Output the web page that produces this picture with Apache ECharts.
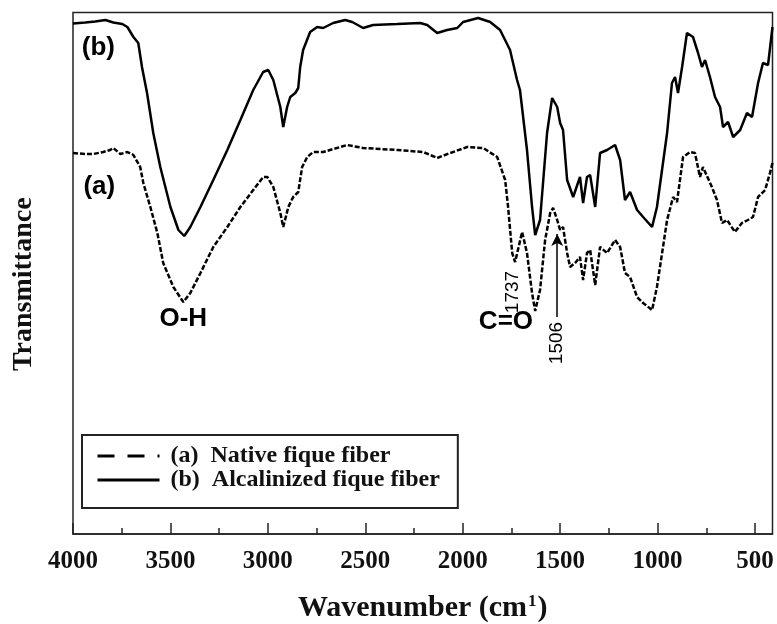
<!DOCTYPE html>
<html>
<head>
<meta charset="utf-8">
<script src="https://cdn.jsdelivr.net/npm/echarts@6/dist/echarts.min.js"></script>
<style>
  html, body { margin: 0; padding: 0; background: #fff; }
  #chart { width: 777px; height: 624px; }
</style>
</head>
<body>
<div id="chart"></div>
<script>
// (b) alcalinized fiber, solid, upper trace
const wnB = [4000, 3937, 3886, 3834, 3793, 3747, 3721, 3690, 3665, 3646, 3620, 3588, 3552, 3500, 3459, 3429, 3398, 3346, 3280, 3208,
  3141, 3075, 3024, 2998, 2972, 2936, 2921, 2901, 2885, 2859, 2844, 2834, 2819, 2783, 2747, 2716, 2665, 2603, 2567, 2511,
  2460, 2336, 2218, 2182, 2131, 2080, 2028, 1998, 1921, 1859, 1808, 1757, 1721, 1706, 1670, 1644, 1628, 1603, 1567, 1541,
  1515, 1500, 1485, 1464, 1433, 1398, 1382, 1362, 1346, 1320, 1295, 1259, 1218, 1192, 1167, 1141, 1105, 1074, 1028, 1003,
  951, 926, 910, 895, 874, 849, 818, 792, 772, 756, 731, 705, 679, 664, 638, 612, 576, 541, 515, 484, 459, 433, 410];
const tB = [102.1, 102.3, 102.5, 102.8, 102.3, 102.0, 101.4, 99.4, 98.2, 93.4, 88.2, 80.2, 73.4, 65.4, 60.8, 59.6, 61.4, 65.4, 70.8, 76.8,
  82.8, 88.8, 92.4, 92.8, 90.8, 85.4, 81.4, 85.4, 87.4, 88.2, 89.2, 93.4, 96.8, 100.4, 101.4, 101.2, 102.2, 102.8, 102.4, 101.2,
  101.8, 102.0, 102.2, 101.8, 100.2, 100.8, 101.2, 102.4, 103.2, 102.4, 100.8, 96.8, 90.8, 88.8, 76.8, 65.4, 59.8, 62.8, 80.2, 87.2,
  85.4, 82.2, 80.8, 70.8, 67.4, 71.4, 66.2, 71.4, 71.8, 65.4, 76.2, 76.8, 77.8, 74.8, 66.8, 68.4, 64.8, 63.4, 61.4, 65.4,
  80.2, 90.2, 91.4, 88.2, 93.4, 100.2, 99.4, 96.2, 93.4, 94.8, 91.4, 87.4, 85.4, 81.4, 82.4, 79.4, 80.8, 84.2, 83.4, 90.2, 94.2, 93.8, 101.4];

// (a) native fiber, dashed, lower trace
const wnA = [4000, 3937, 3896, 3845, 3809, 3793, 3757, 3721, 3690, 3655, 3639, 3603, 3567, 3537, 3485, 3434, 3398, 3346, 3280, 3208,
  3141, 3075, 3024, 3003, 2972, 2936, 2921, 2895, 2870, 2844, 2824, 2798, 2767, 2716, 2593, 2511, 2336, 2203, 2131, 2064,
  1977, 1895, 1823, 1782, 1767, 1746, 1731, 1695, 1670, 1644, 1628, 1603, 1577, 1551, 1536, 1515, 1500, 1485, 1464, 1449,
  1423, 1398, 1382, 1362, 1346, 1320, 1295, 1259, 1218, 1192, 1167, 1141, 1105, 1074, 1028, 1003, 951, 920, 900, 869,
  833, 808, 782, 767, 721, 695, 669, 643, 603, 567, 536, 510, 484, 448, 423, 410];
const tA = [76.2, 76.0, 76.0, 76.4, 76.8, 77.2, 76.0, 76.4, 75.8, 73.4, 70.2, 65.4, 60.2, 54.2, 49.4, 46.4, 48.2, 52.2, 57.4, 61.4,
  65.4, 68.8, 71.4, 71.4, 69.4, 64.2, 61.4, 65.4, 67.4, 68.4, 73.4, 75.4, 76.4, 76.4, 77.8, 77.2, 76.8, 76.4, 75.2, 76.2,
  77.4, 77.2, 75.4, 70.8, 65.4, 56.2, 54.4, 60.4, 56.2, 48.2, 44.6, 48.8, 58.8, 64.2, 65.2, 62.8, 60.8, 61.4, 56.2, 53.4,
  54.2, 55.4, 50.8, 56.2, 56.8, 49.8, 57.4, 56.2, 58.8, 57.4, 52.2, 51.4, 47.4, 46.2, 44.8, 49.4, 62.8, 67.4, 66.4, 75.4,
  76.4, 76.2, 71.4, 73.4, 69.4, 66.8, 62.2, 62.8, 60.4, 62.2, 62.8, 63.4, 67.4, 68.8, 72.2, 74.2];

const majorTicks = [4000, 3500, 3000, 2500, 2000, 1500, 1000, 500];
const minorTicks = [3750, 3250, 2750, 2250, 1750, 1250, 750];

const nameA = '(a)  Native fique fiber';
const nameB = '(b)  Alcalinized fique fiber';

const serif = '"Liberation Serif", "Times New Roman", serif';
const sans = '"Liberation Sans", Arial, sans-serif';

const chart = echarts.init(document.getElementById('chart'));

const pair = (xs, ys) => xs.map((x, i) => [x, ys[i]]);

const tag = (coord, text, size, extra) => ({
  coord: coord,
  symbolSize: 0,
  label: Object.assign({
    show: true, position: 'inside', formatter: text,
    fontFamily: sans, fontWeight: 'bold', fontSize: size, color: '#000'
  }, extra || {})
});

chart.setOption({
  animation: false,
  backgroundColor: '#fff',
  grid: {
    left: 73, right: 4.5, top: 12.5, bottom: 90,
    outerBoundsMode: 'none',
    show: true, borderColor: '#222', borderWidth: 1.5
  },
  legend: {
    orient: 'vertical',
    left: 82, top: 435,
    padding: [9, 18, 16, 14],
    itemGap: 0,
    itemWidth: 62, itemHeight: 14,
    borderColor: '#222', borderWidth: 2,
    selectedMode: false,
    itemStyle: { opacity: 0 },
    textStyle: {
      fontFamily: serif, fontWeight: 'bold', fontSize: 24, lineHeight: 23,
      color: '#111', padding: [0, 0, 0, 6]
    },
    data: [
      { name: nameA, itemStyle: { opacity: 0 }, lineStyle: { type: [17, 13], width: 3, color: '#000' } },
      { name: nameB, itemStyle: { opacity: 0 }, lineStyle: { type: 'solid', width: 3, color: '#000' } }
    ]
  },
  xAxis: [{
    type: 'value', inverse: true, min: 410, max: 4000,
    name: '{t|Wavenumber (cm}{s|1}{t|)}',
    nameLocation: 'middle', nameGap: 59,
    nameTextStyle: {
      rich: {
        t: { fontFamily: serif, fontWeight: 'bold', fontSize: 30, color: '#111' },
        s: { fontFamily: serif, fontWeight: 'bold', fontSize: 17, color: '#111', verticalAlign: 'top', padding: [0, 1, 13, 1] }
      }
    },
    axisLine: { show: true, lineStyle: { color: '#222', width: 1.5 } },
    axisTick: { show: true, inside: true, length: 11, customValues: majorTicks, lineStyle: { color: '#222', width: 1.5 } },
    axisLabel: {
      customValues: majorTicks, margin: 15,
      formatter: (v) => String(v),
      fontFamily: serif, fontWeight: 'bold', fontSize: 25, color: '#111'
    },
    splitLine: { show: false }
  }, {
    type: 'value', inverse: true, min: 410, max: 4000, position: 'bottom',
    axisLine: { show: false },
    axisTick: { show: true, inside: true, length: 6, customValues: minorTicks, lineStyle: { color: '#222', width: 1.5 } },
    axisLabel: { show: false },
    splitLine: { show: false }
  }],
  yAxis: {
    type: 'value', min: 0, max: 104.3,
    name: 'Transmittance',
    nameLocation: 'middle', nameRotate: 90, nameGap: 35,
    nameTextStyle: { fontFamily: serif, fontWeight: 'bold', fontSize: 28, color: '#111', padding: [0, 22, 0, 0] },
    axisLine: { show: false }, axisTick: { show: false }, axisLabel: { show: false },
    splitLine: { show: false }
  },
  series: [{
    name: nameA, type: 'line', symbol: 'none', smooth: false,
    data: pair(wnA, tA),
    lineStyle: { color: '#000', width: 2.5, type: [5, 2] },
    itemStyle: { color: '#000' },
    markPoint: {
      symbol: 'rect',
      data: [
        tag([3865, 69.4], '(a)', 26),
        tag([3434, 43], 'O-H', 26),
        tag([1778, 42.4], 'C=O', 26),
        tag([1742, 48.4], '1737', 19, { fontWeight: 'normal', rotate: 90 }),
        tag([1515, 38.2], '1506', 19, { fontWeight: 'normal', rotate: 90 })
      ]
    },
    markLine: {
      silent: true,
      symbol: ['none', 'arrow'], symbolSize: [9, 12],
      label: { show: false },
      lineStyle: { color: '#000', width: 1.5, type: 'solid' },
      data: [[{ coord: [1515, 43.4] }, { coord: [1515, 60] }]]
    }
  }, {
    name: nameB, type: 'line', symbol: 'none', smooth: false,
    data: pair(wnB, tB),
    lineStyle: { color: '#000', width: 2.5 },
    itemStyle: { color: '#000' },
    markPoint: {
      symbol: 'rect',
      data: [tag([3870, 97.2], '(b)', 26)]
    }
  }]
});
</script>
</body>
</html>
